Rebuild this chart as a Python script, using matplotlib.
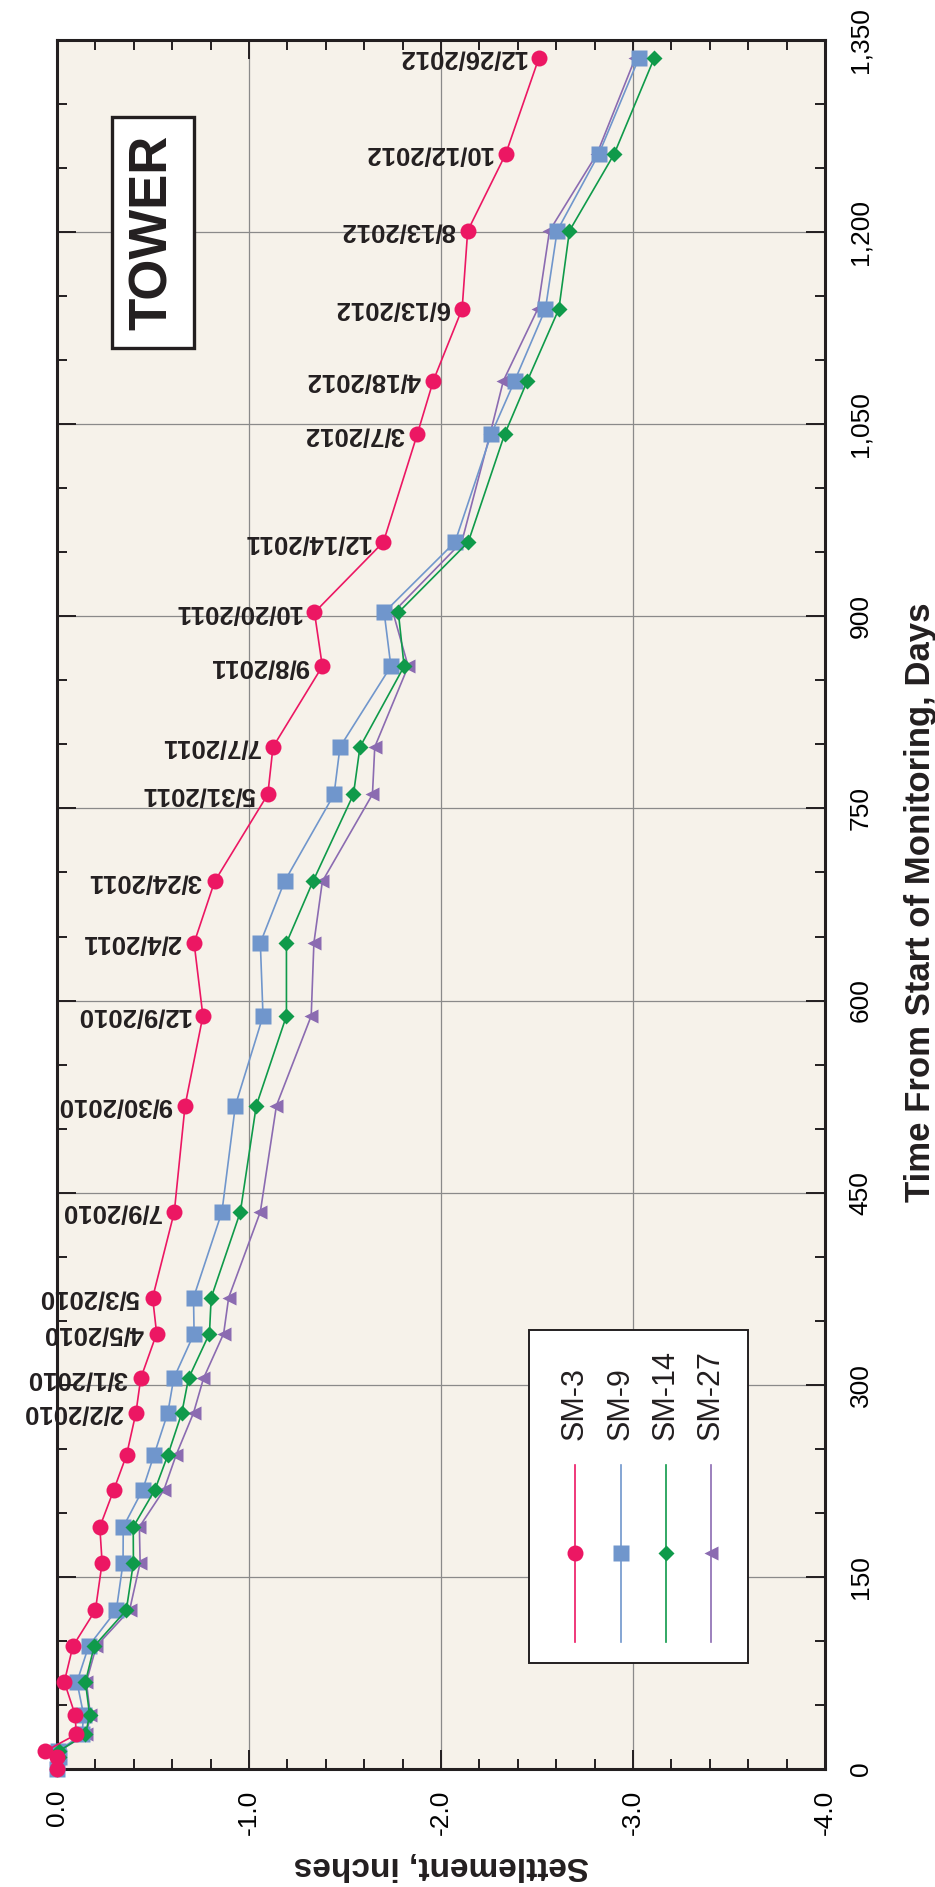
import matplotlib
matplotlib.use('Agg')
import matplotlib.pyplot as plt
from matplotlib.patches import Rectangle
from matplotlib.ticker import MultipleLocator, FuncFormatter
from matplotlib import font_manager

# days from start of monitoring
days = [0, 9, 14, 27, 42, 68, 96, 124, 161, 189, 218, 245,
        278, 305, 340, 368, 435, 518, 588, 645, 693, 761, 798,
        861, 903, 958, 1042, 1084, 1140, 1201, 1261, 1336]

# survey dates written next to the SM-3 points (last 20 readings)
date_labels = ['2/2/2010', '3/1/2010', '4/5/2010', '5/3/2010', '7/9/2010',
               '9/30/2010', '12/9/2010', '2/4/2011', '3/24/2011', '5/31/2011',
               '7/7/2011', '9/8/2011', '10/20/2011', '12/14/2011', '3/7/2012',
               '4/18/2012', '6/13/2012', '8/13/2012', '10/12/2012', '12/26/2012']

# settlement, inches
sm3 = [0.0, 0.0, 0.06, -0.10, -0.095, -0.038, -0.083, -0.200, -0.235, -0.223, -0.296, -0.362,
       -0.411, -0.436, -0.519, -0.498, -0.611, -0.667, -0.760, -0.714, -0.821, -1.098, -1.125,
       -1.382, -1.341, -1.700, -1.876, -1.960, -2.110, -2.139, -2.337, -2.510]
sm9 = [0.0, -0.01, -0.005, -0.130, -0.139, -0.104, -0.165, -0.309, -0.344, -0.345, -0.446, -0.505,
       -0.577, -0.608, -0.714, -0.711, -0.859, -0.929, -1.073, -1.059, -1.185, -1.443, -1.474,
       -1.739, -1.704, -2.073, -2.261, -2.384, -2.544, -2.605, -2.822, -3.031]
sm14 = [0.0, -0.01, -0.01, -0.148, -0.170, -0.148, -0.194, -0.361, -0.398, -0.397, -0.510, -0.577,
        -0.650, -0.685, -0.794, -0.803, -0.955, -1.038, -1.195, -1.195, -1.333, -1.544, -1.578,
        -1.808, -1.778, -2.142, -2.331, -2.450, -2.614, -2.669, -2.902, -3.111]
sm27 = [0.0, -0.01, -0.01, -0.153, -0.174, -0.153, -0.205, -0.378, -0.433, -0.429, -0.557, -0.620,
        -0.711, -0.763, -0.868, -0.894, -1.059, -1.143, -1.324, -1.338, -1.382, -1.643, -1.655,
        -1.829, -1.750, -2.108, -2.255, -2.325, -2.504, -2.565, -2.812, -3.012]

series_names = ['SM-3', 'SM-9', 'SM-14', 'SM-27']

red = '#EC1763'
blue = '#7096CC'
green = '#0F9A4A'
purple = '#8B6BB1'
dark = '#231F20'

names = set(f.name for f in font_manager.fontManager.ttflist)
narrow = 'Liberation Sans Narrow' if 'Liberation Sans Narrow' in names else 'Liberation Sans'
plt.rcParams['font.family'] = ['Liberation Sans', 'DejaVu Sans']

fig = plt.figure(figsize=(9.35, 18.87), dpi=100)
ax = fig.add_axes([57/935, 1 - 1769/1887, 768/935, 1729/1887])
ax.set_facecolor('#F6F2EA')

# chart is drawn turned on its side: time runs up, settlement runs right
styles = [
    (sm27, purple, '<', 10),
    (sm9, blue, 's', 11),
    (sm14, green, 'D', 8),
    (sm3, red, 'o', 11.5),
]
for vals, col, mk, ms in styles:
    ax.plot(vals, days, color=col, lw=1.2, marker=mk, ms=ms, mec='none', clip_on=False, zorder=3)

# date labels next to SM-3 points
first = len(days) - len(date_labels)
for i, lab in enumerate(date_labels):
    ax.annotate(lab, (sm3[first + i], days[first + i]), xytext=(-13, 0), textcoords='offset pixels',
                rotation=180, ha='right', va='center', fontsize=18.5, fontweight='bold', color=dark, zorder=4)

ax.set_xlim(0, -4)
ax.set_ylim(0, 1350)
ax.xaxis.set_major_locator(MultipleLocator(1))
ax.xaxis.set_minor_locator(MultipleLocator(0.2))
ax.yaxis.set_major_locator(MultipleLocator(150))
ax.yaxis.set_minor_locator(MultipleLocator(50))
ax.xaxis.set_major_formatter(FuncFormatter(lambda v, p: '%.1f' % v))
ax.yaxis.set_major_formatter(FuncFormatter(lambda v, p: '{:,.0f}'.format(v)))

ax.tick_params(which='both', direction='in', top=True, bottom=True, left=True, right=True,
               labelleft=False, labelright=True, color=dark, width=1.4)
ax.tick_params(which='major', length=14)
ax.tick_params(which='minor', length=7.5)
ax.tick_params(axis='x', which='major', pad=15, labelrotation=90, labelsize=19)
ax.tick_params(axis='y', which='major', pad=17, labelrotation=90, labelsize=19)
for lab in ax.get_xticklabels():
    lab.set_family(narrow)
    lab.set_ha('center')
    lab.set_va('top')
for lab in ax.get_yticklabels():
    lab.set_family(narrow)
    lab.set_ha('left')
    lab.set_va('center')

ax.grid(which='major', color='#8A8A8A', lw=0.9)
ax.set_axisbelow(True)
for sp in ax.spines.values():
    sp.set_color(dark)
    sp.set_linewidth(2.2)

# axis titles
fig.text(441/935, 1 - 1866/1887, 'Settlement, inches', rotation=180, ha='center', va='center',
         fontsize=24, fontweight='bold', color=dark)
fig.text(0.984, 0.522, 'Time From Start of Monitoring, Days', rotation=90, ha='center', va='center',
         fontsize=25, fontweight='bold', color=dark)

# TOWER tag
ax.add_patch(Rectangle((0.0716, 0.8219), 0.1068, 0.1336, transform=ax.transAxes,
                       fc='white', ec=dark, lw=2.4, zorder=5))
ax.text(0.125, 0.8887, 'TOWER', transform=ax.transAxes, rotation=90, ha='center', va='center',
        fontsize=38, fontweight='bold', color=dark, zorder=6)

# legend box, drawn sideways like the rest
ax.add_patch(Rectangle((0.6146, 0.0613), 0.2851, 0.1926, transform=ax.transAxes,
                       fc='white', ec=dark, lw=1.4, zorder=5))
leg_x = [0.6745, 0.7344, 0.793, 0.8516]
leg_styles = [(red, 'o', 11.5), (blue, 's', 11), (green, 'D', 8), (purple, '<', 10)]
for x, name, (col, mk, ms) in zip(leg_x, series_names, leg_styles):
    ax.plot([x, x], [0.0735, 0.1758], transform=ax.transAxes, color=col, lw=1.2, zorder=6)
    ax.plot([x], [0.1249], transform=ax.transAxes, color=col, marker=mk, ms=ms, mec='none', zorder=7)
    ax.text(x, 0.1903, name, transform=ax.transAxes, rotation=90, ha='center', va='bottom',
            fontsize=22, color=dark, zorder=7)

fig.savefig('out.png', dpi=100, facecolor='white')
